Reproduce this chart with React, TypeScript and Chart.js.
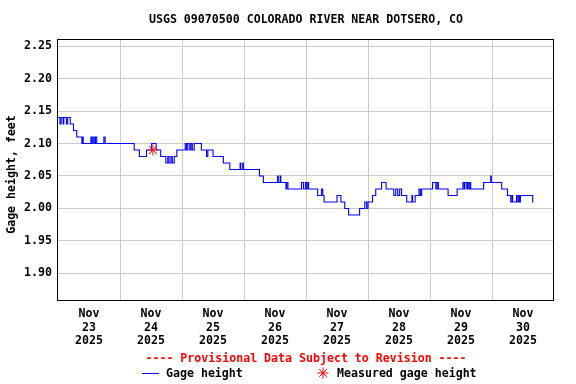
import React, { useEffect, useRef } from "react";
import { Chart, registerables } from "chart.js";

Chart.register(...registerables);

const FONT = '"DejaVu Sans Mono", "Liberation Mono", monospace';
const FONT_SIZE = 11.6;

const chartTitle = "USGS 09070500 COLORADO RIVER NEAR DOTSERO, CO";
const provisionalNote = "---- Provisional Data Subject to Revision ----";
const yAxisTitle = "Gage height, feet";
const seriesName = "Gage height";
const measuredName = "Measured gage height";

// Hours after Nov 23 2025 00:00 at which the gage height changed, and the new value
const gageHours = [
  0, 0.75, 1.25, 2.0, 2.25, 3.25, 3.75, 4.75, 6.0, 7.25, 9.25, 9.5, 9.75, 12.75, 13.0, 13.5, 14.0, 14.5, 15.0,
  17.75, 18.25, 29.5, 31.5, 34.25, 36.25, 38.0, 39.75, 41.75, 42.5, 43.0, 43.75, 44.25, 45.0, 46.0, 49.25,
  49.75, 50.25, 51.0, 51.5, 52.0, 52.75, 55.5, 57.5, 58.0, 60.0, 64.0, 66.5, 70.5, 70.75, 71.5, 71.75, 78.0,
  79.5, 85.0, 85.25, 86.0, 86.25, 88.25, 88.5, 89.0, 94.25, 95.0, 95.75, 96.25, 96.75, 97.0, 100.5, 102.0,
  102.5, 103.0, 108.0, 109.5, 111.0, 112.5, 116.75, 118.75, 119.5, 120.0, 121.75, 123.0, 125.25, 127.0,
  130.0, 130.75, 131.5, 132.25, 133.0, 135.0, 137.0, 137.25, 138.25, 139.75, 140.25, 140.75, 145.0, 146.25,
  146.75, 147.25, 151.0, 154.5, 156.75, 157.25, 157.5, 158.25, 158.5, 159.0, 159.5, 159.75, 164.75, 167.5,
  167.75, 171.75, 174.0, 175.25, 175.75, 176.0, 177.5, 178.0, 178.5, 178.75, 179.0, 183.75, 184.0,
];
const gageValues = [
  2.14, 2.13, 2.14, 2.13, 2.14, 2.13, 2.14, 2.13, 2.12, 2.11, 2.1, 2.11, 2.1, 2.11, 2.1, 2.11, 2.1, 2.11, 2.1,
  2.11, 2.1, 2.09, 2.08, 2.09, 2.1, 2.09, 2.08, 2.07, 2.08, 2.07, 2.08, 2.07, 2.08, 2.09, 2.1,
  2.09, 2.1, 2.09, 2.1, 2.09, 2.1, 2.09, 2.08, 2.09, 2.08, 2.07, 2.06, 2.07, 2.06, 2.07, 2.06, 2.05,
  2.04, 2.05, 2.04, 2.05, 2.04, 2.03, 2.04, 2.03, 2.04, 2.03, 2.04, 2.03, 2.04, 2.03, 2.02, 2.03,
  2.02, 2.01, 2.02, 2.01, 2.0, 1.99, 2.0, 2.01, 2.0, 2.01, 2.02, 2.03, 2.04, 2.03,
  2.02, 2.03, 2.02, 2.03, 2.02, 2.01, 2.02, 2.01, 2.02, 2.03, 2.02, 2.03, 2.04, 2.03,
  2.04, 2.03, 2.02, 2.03, 2.04, 2.03, 2.04, 2.03, 2.04, 2.03, 2.04, 2.03, 2.04, 2.05,
  2.04, 2.03, 2.02, 2.01, 2.02, 2.01, 2.02, 2.01, 2.02, 2.01, 2.02, 2.01, 2.01,
];

const measuredHours = [36.75];
const measuredValues = [2.09];

const dayLabels = [
  ["Nov", "23", "2025"],
  ["Nov", "24", "2025"],
  ["Nov", "25", "2025"],
  ["Nov", "26", "2025"],
  ["Nov", "27", "2025"],
  ["Nov", "28", "2025"],
  ["Nov", "29", "2025"],
  ["Nov", "30", "2025"],
];
const yTicks = [1.9, 1.95, 2.0, 2.05, 2.1, 2.15, 2.2, 2.25];
const yMin = 1.859;
const yMax = 2.261;
const xMin = 0;
const xMax = 192;

const decorPlugin = {
  id: "decor",
  afterDraw(chart: any) {
    const { ctx, chartArea } = chart;
    const { left, right, top, bottom } = chartArea;
    const cx = (left + right) / 2;
    ctx.save();
    // frame
    ctx.strokeStyle = "#000000";
    ctx.lineWidth = 1;
    ctx.strokeRect(left - 0.5, top + 0.5, right - left, bottom - top);
    ctx.font = `bold ${FONT_SIZE}px ${FONT}`;
    ctx.textBaseline = "middle";
    // title
    ctx.fillStyle = "#000000";
    ctx.textAlign = "center";
    ctx.fillText(chartTitle, cx, top - 19);
    // provisional note
    ctx.fillStyle = "#ff0000";
    ctx.fillText(provisionalNote, cx, bottom + 59);
    // legend
    const ly = bottom + 74;
    ctx.strokeStyle = "#0000ff";
    ctx.beginPath();
    ctx.moveTo(left + 84, ly - 0.5);
    ctx.lineTo(left + 101, ly - 0.5);
    ctx.stroke();
    ctx.fillStyle = "#000000";
    ctx.textAlign = "left";
    ctx.fillText(seriesName, left + 108, ly);
    // asterisk symbol
    const ax = left + 265;
    const ay = ly - 1;
    const r = 5.5;
    ctx.strokeStyle = "#ff0000";
    ctx.beginPath();
    for (let i = 0; i < 4; i++) {
      const a = (i * Math.PI) / 4;
      ctx.moveTo(ax - r * Math.cos(a), ay - r * Math.sin(a));
      ctx.lineTo(ax + r * Math.cos(a), ay + r * Math.sin(a));
    }
    ctx.stroke();
    ctx.fillText(measuredName, left + 279, ly);
    // y axis title
    ctx.translate(12, (top + bottom) / 2 + 5);
    ctx.rotate(-Math.PI / 2);
    ctx.textAlign = "center";
    ctx.fillText(yAxisTitle, 0, 0);
    ctx.restore();
  },
};

export default function App() {
  const canvasRef = useRef<HTMLCanvasElement | null>(null);

  useEffect(() => {
    const canvas = canvasRef.current;
    if (!canvas) return;
    const gageData = gageHours.map((h, i) => ({ x: h, y: gageValues[i] }));
    const measuredData = measuredHours.map((h, i) => ({ x: h, y: measuredValues[i] }));
    const tickFont = { family: FONT, size: FONT_SIZE, weight: "bold" as const, lineHeight: 13.5 / FONT_SIZE };

    const chart = new Chart(canvas, {
      type: "line",
      data: {
        datasets: [
          {
            label: seriesName,
            data: gageData,
            borderColor: "#0000ff",
            backgroundColor: "#0000ff",
            borderWidth: 1.1,
            pointRadius: 0,
            stepped: true,
            fill: false,
            order: 2,
          },
          {
            label: measuredName,
            data: measuredData,
            showLine: false,
            pointStyle: "star",
            pointRadius: 5.5,
            borderColor: "#ff0000",
            backgroundColor: "#ff0000",
            pointBorderWidth: 1,
            order: 1,
          },
        ],
      },
      options: {
        responsive: false,
        animation: false,
        devicePixelRatio: 1,
        layout: { padding: { top: 39, right: 22, left: 0, bottom: 0 } },
        plugins: {
          legend: { display: false },
          tooltip: { enabled: false },
          title: { display: false },
        },
        scales: {
          x: {
            type: "linear",
            min: xMin,
            max: xMax,
            afterFit: (s: any) => {
              s.height = 84;
            },
            afterBuildTicks: (s: any) => {
              const t = [];
              for (let v = xMin; v <= xMax; v += 12) t.push({ value: v });
              s.ticks = t;
            },
            border: { display: false },
            grid: {
              drawTicks: false,
              lineWidth: 1,
              color: (c: any) =>
                c.tick && c.tick.value % 24 === 0 && c.tick.value > xMin && c.tick.value < xMax
                  ? "#cccccc"
                  : "rgba(0,0,0,0)",
            },
            ticks: {
              autoSkip: false,
              maxRotation: 0,
              minRotation: 0,
              padding: 7.5,
              color: "#000000",
              font: tickFont,
              callback: (v: any) => {
                const n = Number(v);
                return n % 24 === 12 ? dayLabels[(n - 12) / 24] : "";
              },
            },
          },
          y: {
            type: "linear",
            min: yMin,
            max: yMax,
            afterFit: (s: any) => {
              s.width = 58;
            },
            afterBuildTicks: (s: any) => {
              s.ticks = yTicks.map((v) => ({ value: v }));
            },
            border: { display: false },
            grid: { drawTicks: false, color: "#cccccc", lineWidth: 1 },
            ticks: {
              padding: 6,
              color: "#000000",
              font: tickFont,
              callback: (v: any) => Number(v).toFixed(2),
            },
          },
        },
      },
      plugins: [decorPlugin],
    });
    return () => chart.destroy();
  }, []);

  return (
    <div style={{ position: "absolute", left: 0, top: 0, width: 576, height: 384, background: "#ffffff" }}>
      <canvas ref={canvasRef} width={576} height={384} style={{ width: 576, height: 384 }} />
    </div>
  );
}
